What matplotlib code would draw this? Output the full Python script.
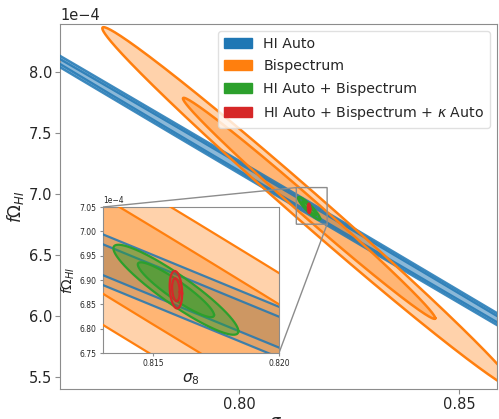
import numpy as np
import matplotlib
matplotlib.use("Agg")
import matplotlib.pyplot as plt
from matplotlib.patches import Patch

# Fiducial values of the two parameters
sigma8_fid = 0.8159
fomega_fid = 6.88e-4

# Forecast 1-sigma marginal errors and correlation for each probe combination
probes = ["HI Auto", "Bispectrum", "HI Auto + Bispectrum",
          r"HI Auto + Bispectrum + $\kappa$ Auto"]
sigma_s8 = [0.050, 0.0189, 0.0010, 0.0001]
sigma_fom = [1.0625e-4, 0.597e-4, 0.0372e-4, 0.0155e-4]
corr = [-0.999805, -0.9939, -0.92, -0.2]
colors = ["#1f77b4", "#ff7f0e", "#2ca02c", "#d62728"]
fill_alpha = [0.30, 0.35, 0.45, 0.30]
line_alpha = [0.85, 1.0, 1.0, 1.0]

# Delta chi^2 levels for 68% and 95% in two dimensions
dchi2 = [2.30, 6.18]

main_xticks = [0.80, 0.85]
main_xlim = (0.7593, 0.8586)
main_ylim = (5.40e-4, 8.39e-4)
zoom_xticks = [0.815, 0.820]
zoom_yticks = [6.75e-4, 6.80e-4, 6.85e-4, 6.90e-4, 6.95e-4, 7.00e-4, 7.05e-4]
zoom_xlim = (0.813, 0.820)
zoom_ylim = (6.75e-4, 7.05e-4)

text_color = "#262626"
spine_color = "#8c8c8c"


def ellipse(i, k, n=600):
    cov = np.array([[sigma_s8[i] ** 2, corr[i] * sigma_s8[i] * sigma_fom[i]],
                    [corr[i] * sigma_s8[i] * sigma_fom[i], sigma_fom[i] ** 2]])
    L = np.linalg.cholesky(cov)
    t = np.linspace(0, 2 * np.pi, n)
    pts = np.sqrt(k) * L @ np.vstack([np.cos(t), np.sin(t)])
    return sigma8_fid + pts[0], fomega_fid + pts[1]


def draw_contours(ax, lw):
    # fills first (blue under orange), then the outlines
    for i in [0, 1]:
        for k in dchi2:
            x, y = ellipse(i, k)
            ax.fill(x, y, color=colors[i], alpha=fill_alpha[i], lw=0, zorder=1 + i)
    for i in [0, 1]:
        for k in dchi2:
            x, y = ellipse(i, k)
            ax.plot(x, y, color=colors[i], lw=lw, alpha=line_alpha[i], zorder=3)
    for i in [2, 3]:
        for k in dchi2:
            x, y = ellipse(i, k)
            ax.fill(x, y, color=colors[i], alpha=fill_alpha[i], lw=0, zorder=4 + i)
            ax.plot(x, y, color=colors[i], lw=lw, zorder=4 + i)


def sci_axis(a, size):
    a.ticklabel_format(axis="y", style="sci", scilimits=(0, 0), useMathText=False)
    a.yaxis.get_offset_text().set_fontsize(size)
    a.yaxis.get_offset_text().set_color(text_color)


fig = plt.figure(figsize=(4.99, 4.19), dpi=100)
ax = fig.add_axes([60 / 499, 1 - 389 / 419, 437 / 499, 365 / 419])

draw_contours(ax, 1.8)
ax.set_xlim(*main_xlim)
ax.set_ylim(*main_ylim)
ax.set_xticks(main_xticks)
ax.set_xlabel(r"$\sigma_8$", fontsize=12, color=text_color, labelpad=2)
ax.set_ylabel(r"$f\Omega_{HI}$", fontsize=12, color=text_color, labelpad=2)
ax.tick_params(labelsize=10.5, colors=text_color, length=3.5, pad=2,
               color=spine_color)
sci_axis(ax, 10.5)
for s in ax.spines.values():
    s.set_color(spine_color)

handles = [Patch(facecolor=c, edgecolor=c) for c in colors]
leg = ax.legend(handles, probes, loc="upper right", fontsize=10.2,
                frameon=True, framealpha=0.8, edgecolor="#d9d9d9",
                borderaxespad=0.5, labelspacing=0.6)
for t in leg.get_texts():
    t.set_color(text_color)
leg.set_zorder(20)

# zoomed inset around the fiducial point
axins = ax.inset_axes([0.0984, 0.0986, 0.4027, 0.400])
axins.set_facecolor("white")
draw_contours(axins, 1.6)
axins.set_xlim(*zoom_xlim)
axins.set_ylim(*zoom_ylim)
axins.set_xticks(zoom_xticks)
axins.set_yticks(zoom_yticks)
axins.tick_params(labelsize=5.5, colors=text_color, length=2.5, pad=2,
                  color=spine_color)
sci_axis(axins, 5.5)
axins.set_xlabel(r"$\sigma_8$", fontsize=11, color=text_color, labelpad=2)
axins.set_ylabel(r"$f\Omega_{HI}$", fontsize=10, color=text_color, labelpad=2)
for s in axins.spines.values():
    s.set_color(spine_color)

ind = ax.indicate_inset_zoom(axins, edgecolor="#8c8c8c", alpha=1.0, lw=1.0)
# connectors: lower-left, upper-left, lower-right, upper-right
for c, vis in zip(ind.connectors, [False, True, True, False]):
    c.set_visible(vis)

fig.savefig("out.png", dpi=100)
